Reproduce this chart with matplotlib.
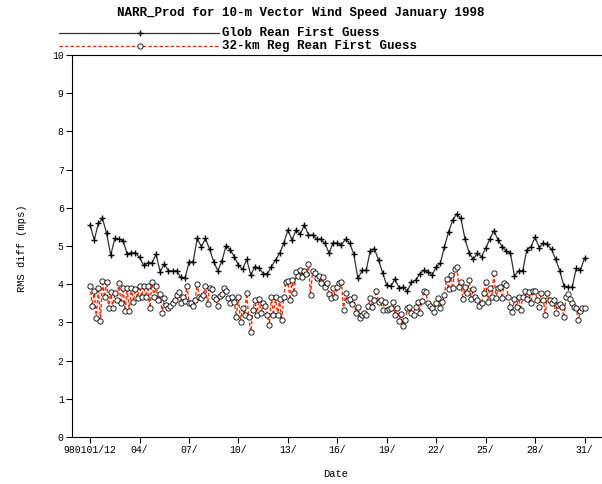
import numpy as np
import matplotlib.pyplot as plt
from matplotlib.lines import Line2D

# 6-hourly global reanalysis first guess, from 01/12Z to 31/12Z
glob = [5.54, 5.16, 5.59, 5.72, 5.33, 4.76, 5.20, 5.18, 5.14, 4.79,
        4.82, 4.82, 4.70, 4.49, 4.56, 4.56, 4.78, 4.33, 4.53, 4.35,
        4.35, 4.35, 4.18, 4.15, 4.57, 4.59, 5.20, 4.98, 5.20, 4.91,
        4.59, 4.35, 4.61, 5.01, 4.90, 4.72, 4.50, 4.39, 4.65, 4.24,
        4.46, 4.42, 4.28, 4.27, 4.46, 4.63, 4.81, 5.07, 5.42, 5.16,
        5.42, 5.31, 5.55, 5.29, 5.29, 5.18, 5.18, 5.07, 4.81, 5.09,
        5.07, 5.03, 5.18, 5.08, 4.78, 4.15, 4.36, 4.36, 4.88, 4.93,
        4.63, 4.30, 3.97, 3.95, 4.13, 3.90, 3.92, 3.82, 4.06, 4.10,
        4.27, 4.36, 4.33, 4.24, 4.45, 4.55, 4.98, 5.37, 5.68, 5.84,
        5.72, 5.18, 4.82, 4.65, 4.81, 4.72, 4.94, 5.18, 5.40, 5.16,
        4.98, 4.87, 4.82, 4.21, 4.35, 4.35, 4.90, 4.98, 5.23, 4.96,
        5.07, 5.04, 4.91, 4.65, 4.35, 3.95, 3.92, 3.92, 4.42, 4.37,
        4.68]

# 3-hourly 32-km regional reanalysis first guess
reg = [3.95, 3.43, 3.83, 3.11, 3.89, 3.04, 4.09, 3.66, 4.07, 3.38,
       3.80, 3.38, 3.78, 3.59, 4.02, 3.50, 3.91, 3.30, 3.89, 3.30,
       3.89, 3.54, 3.88, 3.65, 3.95, 3.67, 3.95, 3.66, 3.95, 3.37,
       4.07, 3.67, 3.95, 3.59, 3.75, 3.24, 3.63, 3.46, 3.37,
       3.43, 3.52, 3.59, 3.72, 3.80, 3.52, 3.67, 3.57, 3.95, 3.52,
       3.50, 3.43, 3.59, 4.01, 3.66, 3.63, 3.72, 3.95, 3.48, 3.89,
       3.87, 3.66, 3.60, 3.43, 3.69, 3.74, 3.89, 3.83, 3.63, 3.52,
       3.66, 3.54, 3.15, 3.67, 3.02, 3.37, 3.19, 3.76, 3.13, 2.76,
       3.32, 3.59, 3.19, 3.60, 3.24, 3.50, 3.43, 3.19, 2.93, 3.66,
       3.19, 3.67, 3.19, 3.60, 3.06, 3.67, 4.07, 4.09, 3.59, 4.11,
       3.78, 4.33, 4.21, 4.37, 4.20, 4.35, 4.27, 4.53, 3.72, 4.35,
       4.30, 4.15, 4.21, 4.02, 4.18, 3.93, 4.04, 3.74, 3.63, 3.89,
       3.66, 3.92, 4.04, 4.07, 3.32, 3.76, 3.59, 3.60, 3.48, 3.66,
       3.24, 3.41, 3.11, 3.19, 3.24, 3.19, 3.43, 3.63, 3.40, 3.59,
       3.83, 3.54, 3.59, 3.32, 3.54, 3.32, 3.34, 3.37, 3.54, 3.19,
       3.37, 3.04, 3.22, 2.91, 3.06, 3.37, 3.40, 3.24, 3.19, 3.40,
       3.54, 3.25, 3.56, 3.83, 3.80, 3.50, 3.43, 3.37, 3.28, 3.50,
       3.63, 3.37, 3.54, 3.72, 4.13, 3.87, 4.24, 3.89, 4.39, 4.46,
       3.92, 4.07, 3.60, 3.92, 3.78, 4.11, 3.60, 3.87, 3.67, 3.59,
       3.43, 3.50, 3.76, 4.07, 3.54, 3.89, 3.67, 4.30, 3.63, 3.89,
       3.92, 3.63, 4.02, 3.98, 3.67, 3.40, 3.28, 3.60, 3.40, 3.67,
       3.32, 3.67, 3.83, 3.60, 3.80, 3.50, 3.83, 3.83, 3.59, 3.40,
       3.78, 3.59, 3.19, 3.78, 3.59, 3.50, 3.59, 3.24, 3.46, 3.48,
       3.41, 3.13, 3.67, 3.75, 3.60, 3.52, 3.40, 3.37, 3.06, 3.30,
       3.37, 3.37]

tick_days = [0.5, 3.5, 6.5, 9.5, 12.5, 15.5, 18.5, 21.5, 24.5, 27.5, 30.5]
tick_labels = ['980101/12', '04/', '07/', '10/', '13/', '16/', '19/',
               '22/', '25/', '28/', '31/']

# time axis in days since 01/00Z
t_glob = 0.5 + 0.25 * np.arange(len(glob))
t_reg = 0.5 + 0.125 * np.arange(len(reg))

mono = 'Liberation Mono'
W, H = 602, 484
red = '#ff2a00'

fig = plt.figure(figsize=(W / 100, H / 100), dpi=100)
ax = fig.add_axes([72 / W, 47 / H, 529 / W, 382 / H])

ax.plot(t_glob, glob, color='#333333', lw=0.9, marker='+', ms=5,
        mec='black', mew=1.0, zorder=3)
ax.plot(t_reg, reg, color=red, lw=1.0, ls=(0, (2.5, 1.5)), marker='o',
        ms=3.8, mfc='white', mec='black', mew=0.6, zorder=2)

ax.set_xlim(-0.6, 31.5)
ax.set_ylim(0, 10)
ax.set_yticks(range(0, 11))
ax.set_xticks(tick_days)
ax.set_xticklabels(tick_labels)
ax.tick_params(direction='out', length=4, width=0.8, pad=2, labelsize=7)
for lab in ax.get_xticklabels() + ax.get_yticklabels():
    lab.set_family(mono)
ax.spines['right'].set_visible(False)
for s in ['left', 'bottom', 'top']:
    ax.spines[s].set_linewidth(0.8)

fig.text(0.5, 1 - 13 / H, 'NARR_Prod for 10-m Vector Wind Speed January 1998',
         ha='center', va='center', family=mono, weight='bold', fontsize=9)
fig.text(336 / W, 1 - 474 / H, 'Date', ha='center', va='center',
         family=mono, fontsize=7.5)
fig.text(22 / W, 1 - 248 / H, 'RMS diff (mps)', ha='center', va='center',
         rotation=90, family=mono, fontsize=7.5)

# legend drawn by hand above the plot
fig.add_artist(Line2D([59 / W, 219 / W], [1 - 33 / H, 1 - 33 / H],
                      color='#333333', lw=0.9))
fig.add_artist(Line2D([140 / W], [1 - 33 / H], marker='+', ms=5,
                      mec='black', mew=1.0))
fig.add_artist(Line2D([59 / W, 219 / W], [1 - 46 / H, 1 - 46 / H],
                      color=red, lw=1.0, ls=(0, (2.5, 1.5))))
fig.add_artist(Line2D([140 / W], [1 - 46 / H], marker='o', ms=3.8,
                      mfc='white', mec='black', mew=0.6))
fig.text(222 / W, 1 - 33 / H, 'Glob Rean First Guess', ha='left',
         va='center', family=mono, weight='bold', fontsize=9)
fig.text(222 / W, 1 - 46 / H, '32-km Reg Rean First Guess', ha='left',
         va='center', family=mono, weight='bold', fontsize=9)

fig.savefig('out.png', dpi=100)
